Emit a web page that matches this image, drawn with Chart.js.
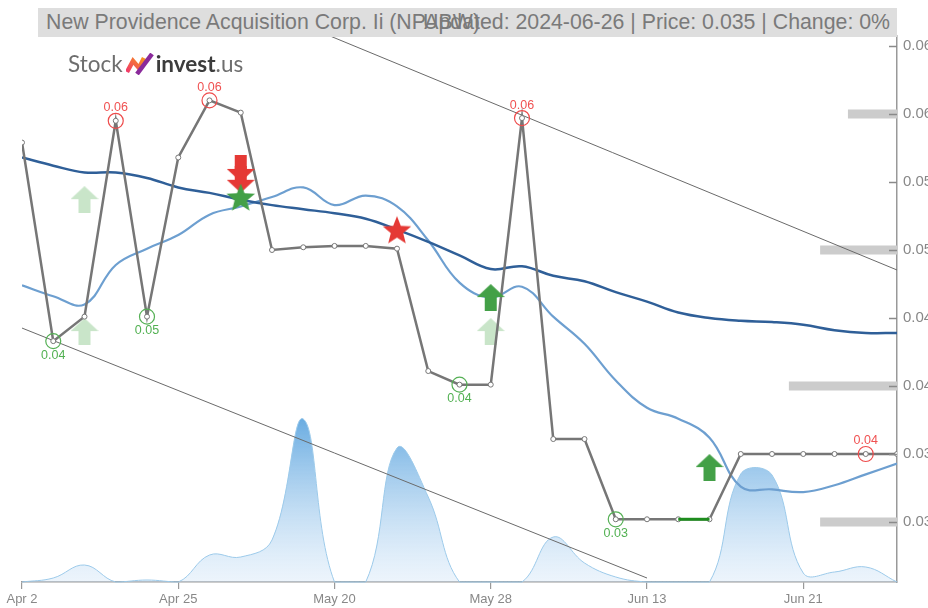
<!DOCTYPE html>
<html><head><meta charset="utf-8">
<script src="https://cdn.jsdelivr.net/npm/chart.js@4.4.1/dist/chart.umd.min.js"></script>
<style>
html,body{margin:0;padding:0;background:#fff;overflow:hidden;}
#wrap{position:relative;width:928px;height:608px;}
#c{position:absolute;left:0;top:0;}
#title{position:absolute;left:38px;top:8px;width:859px;height:29px;background:#dedede;font-family:"Liberation Sans",Arial,sans-serif;font-size:21.3px;color:#7a7a7a;line-height:29px;z-index:2;}
#title .l{position:absolute;left:8px;top:0;white-space:nowrap;}
#title .r{position:absolute;right:7px;top:0;white-space:nowrap;}
#logo{position:absolute;left:68px;top:51px;height:26px;font-family:Lato,"Open Sans",sans-serif;font-size:22.5px;line-height:26px;white-space:nowrap;z-index:2;display:flex;align-items:center;}
#logo .s{color:#6e6e6e;}
#logo .i{color:#3c3c3c;font-weight:bold;}
#logo svg{margin:0 2px 0 3px;}
</style></head>
<body><div id="wrap">
<canvas id="c" width="928" height="608"></canvas>
<div id="title"><span class="l">New Providence Acquisition Corp. Ii (NPABW)</span><span class="r">Updated: 2024-06-26 | Price: 0.035 | Change: 0%</span></div>
<div id="logo"><span class="s">Stock</span><svg width="28" height="22" viewBox="0 0 28 22"><defs><linearGradient id="lg" x1="0" y1="1" x2="1" y2="0"><stop offset="0" stop-color="#f0386b"/><stop offset="1" stop-color="#f7941d"/></linearGradient></defs><path d="M1 19 L7 8 L13 15 L18 5" stroke="url(#lg)" stroke-width="4.5" fill="none" stroke-linejoin="miter"/><path d="M11 21 L26 1" stroke="#8a2a9b" stroke-width="4.5" fill="none"/></svg><span class="i">invest</span><span class="s">.us</span></div>
</div>
<script>
// ---- data ----
const dates = ['Apr 2','Apr 5','Apr 10','Apr 15','Apr 19','Apr 25','Apr 30','May 3','May 8','May 14','May 20','May 21','May 22','May 23','May 24','May 28','May 31','Jun 4','Jun 7','Jun 11','Jun 13','Jun 14','Jun 17','Jun 18','Jun 20','Jun 21','Jun 24','Jun 25','Jun 26'];
const price = [0.0579,0.0433,0.0451,0.0595,0.0451,0.0568,0.0610,0.0601,0.0500,0.0502,0.0503,0.0503,0.0501,0.0411,0.0401,0.0401,0.0597,0.0361,0.0361,0.0302,0.0302,0.0302,0.0302,0.0350,0.0350,0.0350,0.0350,0.0350,0.0350];
const maLong = [0.0568,0.0562,0.0557,0.0557,0.0553,0.0546,0.0542,0.0537,0.0533,0.0530,0.0527,0.0523,0.0515,0.0506,0.0496,0.0486,0.0488,0.0481,0.0477,0.0469,0.0462,0.0454,0.0450,0.0448,0.0447,0.0445,0.0441,0.0439,0.0439];
const maShort = [0.0474,0.0466,0.0460,0.0489,0.0501,0.0511,0.0526,0.0532,0.0539,0.0546,0.0533,0.0540,0.0532,0.0507,0.0476,0.0465,0.0473,0.0451,0.0431,0.0404,0.0384,0.0376,0.0362,0.0326,0.0324,0.0322,0.0327,0.0335,0.0343];
const volume = [0,4000,17000,0,2000,0,27000,25000,42000,163000,0,0,134000,85000,0,0,0,45000,19000,5000,0,0,0,108000,107000,9000,10000,15000,0];
const xTickIdx = [0,5,10,15,20,25];
const yTickVals = [0.03,0.035,0.04,0.045,0.05,0.055,0.06,0.065];
const yTickLabels = ['0.03','0.03','0.04','0.04','0.05','0.05','0.06','0.06'];
const highIdx = [3,6,16,27];
const highText = ['0.06','0.06','0.06','0.04'];
const lowIdx = [1,4,14,19];
const lowText = ['0.04','0.05','0.04','0.03'];
const greenSegIdx = [21,22];
const upperTrendIdx = [9,28];
const upperTrendVal = [0.06655,0.04853];
const lowerTrendIdx = [0,20];
const lowerTrendVal = [0.04426,0.02588];
const levelVal = [0.06,0.05,0.04,0.03];
const levelFrom = [26.43,25.54,24.54,25.54];
const buyArrowIdx = [15,22];
const buyArrowVal = [0.0465,0.0340];
const fadedArrowIdx = [2,2,15];
const fadedArrowVal = [0.0537,0.0440,0.0440];
const sellArrowIdx = [7,7];
const sellArrowVal = [0.0560,0.0552];
const buyStarIdx = [7];
const buyStarVal = [0.0539];
const sellStarIdx = [12];
const sellStarVal = [0.0515];

// ---- helpers ----
const pts = (idx, vals) => idx.map((x,i)=>({x:x, y:vals[i]}));
const series = vals => vals.map((v,i)=>({x:i, y:v}));
function makeArrow(color, up){
  const w=28,h=27,cv=document.createElement('canvas');cv.width=w;cv.height=h;
  const g=cv.getContext('2d');g.fillStyle=color;g.beginPath();
  if(up){g.moveTo(w/2,0);g.lineTo(w,13);g.lineTo(w/2+6,13);g.lineTo(w/2+6,h);g.lineTo(w/2-6,h);g.lineTo(w/2-6,13);g.lineTo(0,13);}
  else{g.moveTo(w/2,h);g.lineTo(w,h-13);g.lineTo(w/2+6,h-13);g.lineTo(w/2+6,0);g.lineTo(w/2-6,0);g.lineTo(w/2-6,h-13);g.lineTo(0,h-13);}
  g.closePath();g.fill();return cv;
}
function makeStar(color){
  const s=32,cv=document.createElement('canvas');cv.width=s;cv.height=s;
  const g=cv.getContext('2d');g.fillStyle=color;g.beginPath();
  const R=15,r=6.5,cx=s/2,cy=s/2+1.5;
  for(let k=0;k<10;k++){const a=-Math.PI/2+k*Math.PI/5;const rr=k%2?r:R;g.lineTo(cx+rr*Math.cos(a),cy+rr*Math.sin(a));}
  g.closePath();g.fill();return cv;
}
const GREEN='#43a047', RED='#e53935', FADED='#c9e5c9';
const imgBuy=makeArrow(GREEN,true), imgFaded=makeArrow(FADED,true), imgSell=makeArrow(RED,false);
const imgStarG=makeStar(GREEN), imgStarR=makeStar(RED);

const volMax = Math.max(...volume);

const datasets = [
  {label:'fadedArrows', data:pts(fadedArrowIdx,fadedArrowVal), showLine:false, pointStyle:imgFaded, pointRadius:14, order:9},
  {label:'buyArrows', data:pts(buyArrowIdx,buyArrowVal), showLine:false, pointStyle:imgBuy, pointRadius:14, order:0},
  {label:'sellArrows', data:pts(sellArrowIdx,sellArrowVal), showLine:false, pointStyle:imgSell, pointRadius:14, order:0.5},
  {label:'buyStars', data:pts(buyStarIdx,buyStarVal), showLine:false, pointStyle:imgStarG, pointRadius:16, order:0.2},
  {label:'sellStars', data:pts(sellStarIdx,sellStarVal), showLine:false, pointStyle:imgStarR, pointRadius:16, order:0.2},
  {label:'highs', data:highIdx.map(i=>({x:i,y:price[i]})), showLine:false, pointRadius:7.5, pointBorderWidth:1.2, pointBackgroundColor:'rgba(0,0,0,0)', pointBorderColor:'#ee4b4b', order:1},
  {label:'lows', data:lowIdx.map(i=>({x:i,y:price[i]})), showLine:false, pointRadius:7.5, pointBorderWidth:1.2, pointBackgroundColor:'rgba(0,0,0,0)', pointBorderColor:'#55b055', order:1},
  {label:'greenSeg', data:greenSegIdx.map(i=>({x:i,y:price[i]})), borderColor:'#1e8c1e', borderWidth:3, pointRadius:0, order:2},
  {label:'price', data:series(price), borderColor:'#767676', borderWidth:2.5, pointRadius:2.5, pointBorderWidth:1, pointBackgroundColor:'#fff', pointBorderColor:'#777', tension:0, order:3},
  {label:'maLong', data:series(maLong), borderColor:'#2f5f98', borderWidth:2.5, pointRadius:0, tension:0.4, order:5},
  {label:'maShort', data:series(maShort), borderColor:'#6d9fd0', borderWidth:2.2, pointRadius:0, tension:0.4, order:6},
  {label:'upperTrend', data:pts(upperTrendIdx,upperTrendVal), borderColor:'#6a6a6a', borderWidth:1, pointRadius:0, order:7},
  {label:'lowerTrend', data:pts(lowerTrendIdx,lowerTrendVal), borderColor:'#6a6a6a', borderWidth:1, pointRadius:0, order:7},
  ...levelVal.map((v,i)=>({label:'level'+i, data:[{x:levelFrom[i],y:v},{x:28,y:v}], borderColor:'#cccccc', borderWidth:9, borderCapStyle:'butt', pointRadius:0, order:8})),
  {label:'volume', yAxisID:'yv', data:series(volume), borderColor:'#9ccaea', borderWidth:1, pointRadius:0, tension:0.4, fill:'origin', order:10,
   clip:{left:0,top:0,right:0,bottom:12},
   backgroundColor:(c)=>{const ch=c.chart;const a=ch.chartArea;if(!a)return 'rgba(120,180,230,0.4)';
     const yv=ch.scales.yv;const gtop=yv.getPixelForValue(volMax);
     const g=ch.ctx.createLinearGradient(0,gtop,0,a.bottom);
     g.addColorStop(0,'rgba(98,168,224,0.95)');g.addColorStop(1,'rgba(215,232,248,0.45)');return g;}}
];

const labelPlugin = {
  id:'labels',
  afterDatasetsDraw(chart){
    const c=chart.ctx;c.save();c.font='12.5px "Liberation Sans", Arial, sans-serif';c.textAlign='center';c.textBaseline='middle';
    chart.data.datasets.forEach((ds,di)=>{
      if(ds.label!=='highs'&&ds.label!=='lows')return;
      const meta=chart.getDatasetMeta(di);
      const texts = ds.label==='highs'?highText:lowText;
      c.fillStyle = ds.label==='highs'?'#f05252':'#52b152';
      meta.data.forEach((p,i)=>{c.fillText(texts[i],p.x, ds.label==='highs'?p.y-13:p.y+14);});
    });
    c.restore();
  },
  afterDraw(chart){
    const y=chart.scales.y, c=chart.ctx;c.save();c.strokeStyle='#8a8a8a';c.lineWidth=1.5;
    y.ticks.forEach(t=>{const py=Math.round(y.getPixelForValue(t.value))+0.5;c.beginPath();c.moveTo(y.left-8,py);c.lineTo(y.left,py);c.stroke();});
    c.restore();
  }
};

new Chart(document.getElementById('c'), {
  type:'line',
  data:{datasets},
  options:{
    responsive:false, animation:false,
    layout:{padding:{left:22,top:36,right:0,bottom:0}},
    plugins:{legend:{display:false},tooltip:{enabled:false},title:{display:false}},
    scales:{
      x:{type:'linear',min:0,max:28,position:'bottom',
        afterBuildTicks:s=>{s.ticks=xTickIdx.map(v=>({value:v}));},
        afterFit:s=>{s.height=26;},
        ticks:{callback:v=>dates[v],color:'#888',font:{family:'"Liberation Sans", Arial, sans-serif',size:13},padding:3,maxRotation:0,autoSkip:false},
        grid:{drawOnChartArea:false,drawTicks:true,tickLength:7,color:'#999',lineWidth:1.2},
        border:{color:'#999',width:1.5}},
      y:{type:'linear',position:'right',min:0.025588,max:0.065735,
        afterBuildTicks:s=>{s.ticks=yTickVals.map(v=>({value:v}));},
        afterFit:s=>{s.width=31;},
        ticks:{callback:(v,i)=>yTickLabels[i],color:'#888',font:{family:'"Liberation Sans", Arial, sans-serif',size:15},padding:6},
        grid:{drawOnChartArea:false,drawTicks:false},
        border:{color:'#999',width:1.5}},
      yv:{type:'linear',display:false,min:0,max:volMax*3.35}
    }
  },
  plugins:[labelPlugin]
});
</script>
</body></html>
